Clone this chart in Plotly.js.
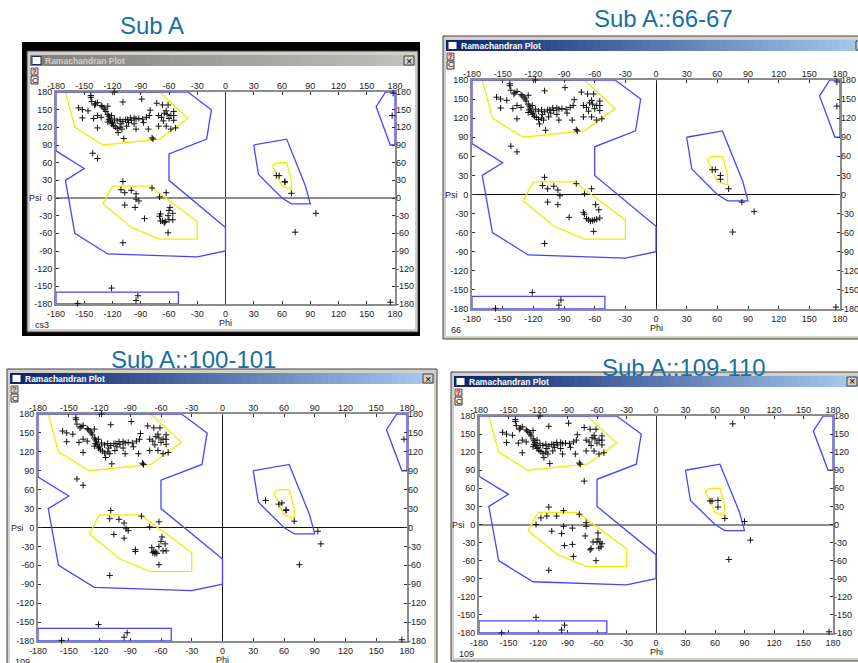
<!DOCTYPE html>
<html>
<head>
<meta charset="utf-8">
<script src="https://cdn.plot.ly/plotly-3.0.1.min.js"></script>
<style>
  html, body { margin: 0; padding: 0; background: #ffffff; }
  #chart { width: 858px; height: 663px; }
</style>
</head>
<body>
<div id="chart"></div>
<script>
// ---- axis ticks (phi / psi, degrees) ----
const tickVals = [-180, -150, -120, -90, -60, -30, 0, 30, 60, 90, 120, 150, 180];
const tickText = ['-180', '-150', '-120', '-90', '-60', '-30', '0', '30', '60', '90', '120', '150', '180'];

// ---- allowed-region outlines (phi, psi) ----
const blueCorePhi = [-180, -40, -15, -20, -60, -60, 0, 0, -30, -125, -160, -170, -150, -180, -180];
const blueCorePsi = [180, 180, 150, 100, 75, 30, -50, -90, -100, -95, -60, 30, 50, 80, 180];
const blueLowPhi = [-180, -50, -50, -180, -180];
const blueLowPsi = [-160, -160, -180, -180, -160];
const blueEdgePhi = [170, 160, 175, 180, 180, 170];
const blueEdgePsi = [180, 155, 90, 90, 180, 180];
const blueLeftPhi = [30, 65, 85, 90, 70, 60, 35, 30];
const blueLeftPsi = [90, 100, 20, -10, -10, 0, 40, 90];
const yellowBetaPhi = [-170, -160, -130, -70, -40, -70, -170];
const yellowBetaPsi = [180, 120, 90, 100, 135, 180, 180];
const yellowAlphaPhi = [-120, -80, -30, -30, -70, -100, -130, -120];
const yellowAlphaPsi = [20, 20, -40, -70, -70, -50, -10, 20];
const yellowLeftPhi = [50, 55, 65, 70, 70, 60, 50];
const yellowLeftPsi = [55, 60, 60, 30, 15, 20, 55];

// ---- residues in the beta region, common to all four structures ----
const betaPhi = [-143, -143, -142, -138, -136, -132, -131, -129, -125, -118,
  -156, -152, -152, -136, -132, -136, -125, -124, -123, -124, -122, -125, -121,
  -120, -119, -117, -115, -114, -108, -109, -112, -109, -106, -104, -100, -97, -95,
  -111, -105, -97, -95, -89, -87, -82, -81, -80, -78, -77, -73, -67, -61, -71, -71, -66,
  -63, -62, -58, -55, -55, -58, -53, -63, -55,
  -128, -127, -121, -118, -115, -112, -110, -103, -101, -92, -88, -84, -68, -60, -65, -140, -139, -146];
const betaPsi = [174, 171, 164, 160, 162, 157, 155, 153, 156, 180,
  153, 150, 136, 140, 137, 119, 142, 139, 136, 133, 131, 129, 126,
  128, 123, 121, 118, 111, 101, 163, 133, 130, 133, 133, 132, 136, 134,
  126, 122, 126, 117, 168, 128, 117, 140, 149, 102, 100, 161, 158, 158, 140, 122, 131,
  148, 142, 140, 140, 147, 117, 119, 122, 132,
  150, 147, 140, 134, 131, 120, 117, 128, 136, 135, 134, 137, 137, 135, 144, 135, 158, 148];

// ---- remaining residues of each structure ----
const subAPhi = [-141, -136, -109, -111, -107, -100, -95, -95, -92, -107,
  -96, -86, -78, -70, -63, -69, -70, -69, -67, -65,
  -64, -60, -59, -60, -56, -61, -56, -61, -109,
  54, 57, 63, 63, 70, 96, 74, 178, 177, 175, -121, -93, -95, -157];
const subAPsi = [76, 67, 28, 14, 9, 13, 7, -2, -5, -12,
  -16, -35, 17, 2, 9, -27, -31, -39, -39, -42,
  -40, -37, -16, -21, -26, -30, -37, -59, -76,
  38, 38, 28, 27, 8, -26, -58, 178, 140, -177, -153, -166, -174, -179];

const sub66Phi = [-142, -136, -109, -111, -106, -100, -96, -94, -106, -96,
  -85, -78, -70, -63, -71, -70, -68, -66, -64, -62,
  -60, -59, -56, -58, -55, -61, -109,
  55, 58, 63, 63, 71, 84, 96, 75, 177, 177, 176, -121, -93, -95, -157];
const sub66Psi = [76, 67, 27, 14, 9, 13, 7, -2, -12, -16,
  -36, 17, 1, 9, -28, -31, -38, -40, -42, -41,
  -40, -16, -24, -39, -37, -58, -77,
  39, 39, 30, 24, 9, -12, -27, -59, 177, 139, -177, -154, -166, -174, -179];

const sub100Phi = [-142, -136, -109, -110, -106, -101, -96, -94, -92, -96,
  -85, -85, -79, -71, -62, -69, -67, -68, -66, -64,
  -65, -59, -60, -62, -58, -56, -55, -62, -110,
  42, 55, 58, 62, 62, 70, 93, 96, 75, 177, 175, -121, -93, -96, -157];
const sub100Psi = [77, 67, 27, 14, -11, 13, 7, -2, -5, -17,
  -35, -38, 18, 1, 9, -32, -38, -40, -41, -41,
  -39, -15, -22, -30, -37, -26, -37, -59, -76,
  43, 37, 39, 28, 27, 10, -6, -26, -59, 140, -178, -154, -167, -174, -179];

const sub109Phi = [-73, -109, -117, -111, -101, -94, -122, -106, -94, -96,
  -93, -85, -85, -84, -78, -71, -71, -72, -59, -59,
  -60, -64, -66, -67, -57, -55, -58, -56, -61, -109,
  55, 57, 63, 63, 70, 90, 96, 74, 78, 176, -122, -93, -96, -157];
const sub109Psi = [72, 29, 11, 14, 14, 23, 0, -11, -3, -15,
  -35, -6, -33, -53, 17, 3, -3, -19, -14, -24,
  -29, -29, -40, -42, -29, -32, -39, -37, -60, -76,
  39, 39, 40, 29, 10, 5, -26, -58, 167, -178, -154, -167, -175, -180];

// ---- page geometry (pixels) ----
const W = 858, H = 663;
const px = x => x / W;
const py = y => 1 - y / H;

const panels = [
  { heading: 'Sub A', tag: 'cs3', active: false, frame: [22, 42, 420, 336],
    win: [27, 51, 418, 332], plot: [56, 92, 395, 304], head: [152, 26],
    phi: subAPhi, psi: subAPsi, psiZero: ['#8c8c8c', 2], phiZero: ['#333333', 1] },
  { heading: 'Sub A::66-67', tag: '66', active: true, frame: null,
    win: [443, 36, 870, 339], plot: [472, 80, 840, 309], head: [663, 18],
    phi: sub66Phi, psi: sub66Psi, psiZero: ['#111111', 1], phiZero: ['#111111', 1] },
  { heading: 'Sub A::100-101', tag: '109', active: true, frame: null,
    win: [7, 369, 437, 690], plot: [38, 414, 407, 641], head: [193, 359],
    phi: sub100Phi, psi: sub100Psi, psiZero: ['#111111', 1], phiZero: ['#111111', 1] },
  { heading: 'Sub A::109-110', tag: '109', active: true, frame: null,
    win: [451, 372, 861, 661], plot: [479, 416, 833, 633], head: [684, 367],
    phi: sub109Phi, psi: sub109Psi, psiZero: ['#8c8c8c', 2], phiZero: ['#333333', 1] }
];

const FACE = '#d4d0c8';
const tickFont = { family: 'Liberation Sans, Arial, sans-serif', size: 9, color: '#222222' };

const shapes = [];
const annotations = [];
const traces = [];
const layout = {
  width: W, height: H, autosize: false,
  margin: { l: 0, r: 0, t: 0, b: 0, pad: 0 },
  paper_bgcolor: '#ffffff', plot_bgcolor: 'rgba(0,0,0,0)',
  showlegend: false, shapes: shapes, annotations: annotations
};

function box(x0, y0, x1, y1, fill, lineColor, lw) {
  shapes.push({
    type: 'rect', xref: 'paper', yref: 'paper', layer: 'below',
    x0: px(x0), x1: px(x1), y0: py(y1), y1: py(y0),
    fillcolor: fill, line: { color: lineColor || fill, width: lw || 0 }
  });
}
function label(x, y, text, size, color, opts) {
  annotations.push(Object.assign({
    xref: 'paper', yref: 'paper', x: px(x), y: py(y), text: text, showarrow: false,
    xanchor: 'center', yanchor: 'middle',
    font: { family: 'Liberation Sans, Arial, sans-serif', size: size, color: color }
  }, opts || {}));
}
function mix(a, b, t) {
  return 'rgb(' + a.map((v, i) => Math.round(v + (b[i] - v) * t)).join(',') + ')';
}

const id = n => (n === 1 ? '' : String(n));

panels.forEach((p, i) => {
  const [wl, wt, wr, wb] = p.win;
  const [pl, pt, pr, pb] = p.plot;

  // window chrome
  if (p.frame) box(p.frame[0], p.frame[1], p.frame[2], p.frame[3], '#000000');
  box(wl, wt, wr, wb, FACE, '#404040', 1);
  const tb = [wl + 3, wt + 4, wr - 3, wt + 15];
  const c0 = p.active ? [10, 36, 106] : [128, 128, 128];
  const c1 = p.active ? [166, 202, 240] : [192, 192, 192];
  const N = 60, sw = (tb[2] - tb[0]) / N;
  for (let k = 0; k < N; k++) {
    box(tb[0] + k * sw, tb[1], tb[0] + (k + 1) * sw + 0.6, tb[3], mix(c0, c1, k / (N - 1)));
  }
  box(wl + 3, wt + 15, wr - 3, wb - 3, '#ffffff');
  // window icon and close button
  box(wl + 5, tb[1] + 1.5, wl + 14, tb[3] - 1.5, '#ffffff', '#1a2a6a', 1);
  box(wr - 14, tb[1] + 1, wr - 4, tb[3] - 1, FACE, '#404040', 1);
  label(wr - 9, (tb[1] + tb[3]) / 2, '×', 11, '#000000');
  label(wl + 16, (tb[1] + tb[3]) / 2 + 0.5, '<b>Ramachandran Plot</b>', 8.5,
        p.active ? '#ffffff' : '#d4d0c8', { xanchor: 'left' });
  // toolbar buttons
  box(wl + 4, wt + 17, wl + 11, wt + 24, FACE, '#555555', 1);
  label(wl + 7.5, wt + 20.5, '<b>?</b>', 8, '#e0002a');
  box(wl + 4, wt + 25, wl + 11, wt + 33, '#eeeeee', '#333333', 1);
  label(wl + 7.5, wt + 29, 'C', 8, '#000000');

  // headings and axis names
  label(p.head[0], p.head[1], p.heading, 24, '#1670a0');
  label(pl - 21, (pt + pb) / 2, 'Psi', 9, '#222222');
  label((pl + pr) / 2, pb + 19, 'Phi', 9, '#222222');
  label(wl + 6, pb + 21, p.tag, 9, '#222222', { xanchor: 'left' });

  // axes: bottom/left carry the frame, top/right are label mirrors
  const nx = 2 * i + 1, ny = 2 * i + 1;
  const xb = 'x' + id(nx), yb = 'y' + id(ny);
  const xt = 'x' + id(nx + 1), yr = 'y' + id(ny + 1);
  const dom = { x: [px(pl), px(pr)], y: [py(pb), py(pt)] };
  const common = {
    range: [-180, 180], autorange: false, fixedrange: true,
    tickmode: 'array', tickvals: tickVals, ticktext: tickText,
    tickfont: tickFont, ticklen: 3, tickwidth: 1, tickcolor: '#333333',
    showgrid: false
  };
  layout['xaxis' + id(nx)] = Object.assign({}, common, {
    domain: dom.x, anchor: yb, side: 'bottom', ticks: 'inside',
    showline: true, mirror: true, linecolor: '#8c8c8c', linewidth: 2,
    zeroline: true, zerolinecolor: p.phiZero[0], zerolinewidth: p.phiZero[1],
    layer: 'below traces'
  });
  layout['yaxis' + id(ny)] = Object.assign({}, common, {
    domain: dom.y, anchor: xb, side: 'left', ticks: 'inside',
    showline: true, mirror: true, linecolor: '#8c8c8c', linewidth: 2,
    zeroline: true, zerolinecolor: p.psiZero[0], zerolinewidth: p.psiZero[1],
    layer: 'below traces'
  });
  layout['xaxis' + id(nx + 1)] = Object.assign({}, common, {
    overlaying: xb, anchor: yb, side: 'top', ticks: 'inside',
    showline: false, zeroline: false
  });
  layout['yaxis' + id(ny + 1)] = Object.assign({}, common, {
    overlaying: yb, anchor: xb, side: 'right', ticks: 'inside',
    showline: false, zeroline: false
  });

  const outline = (x, y, color) => ({
    type: 'scatter', mode: 'lines', x: x, y: y, xaxis: xb, yaxis: yb,
    line: { color: color, width: 1.3 }, hoverinfo: 'skip'
  });
  traces.push(outline(yellowBetaPhi, yellowBetaPsi, '#eeee00'));
  traces.push(outline(yellowAlphaPhi, yellowAlphaPsi, '#eeee00'));
  traces.push(outline(yellowLeftPhi, yellowLeftPsi, '#eeee00'));
  traces.push(outline(blueCorePhi, blueCorePsi, '#4646ff'));
  traces.push(outline(blueLowPhi, blueLowPsi, '#4646ff'));
  traces.push(outline(blueEdgePhi, blueEdgePsi, '#4646ff'));
  traces.push(outline(blueLeftPhi, blueLeftPsi, '#4646ff'));

  traces.push({
    type: 'scatter', mode: 'markers', x: betaPhi.concat(p.phi), y: betaPsi.concat(p.psi),
    xaxis: xb, yaxis: yb, cliponaxis: false,
    marker: { symbol: 'cross-thin', size: 4.5, color: '#111111', line: { width: 1, color: '#111111' } }
  });
  // keeps the mirrored top/right axes attached to a subplot
  traces.push({ type: 'scatter', mode: 'markers', x: [], y: [], xaxis: xt, yaxis: yr, hoverinfo: 'skip' });
});

Plotly.newPlot('chart', traces, layout, { displayModeBar: false, staticPlot: true });
</script>
</body>
</html>
